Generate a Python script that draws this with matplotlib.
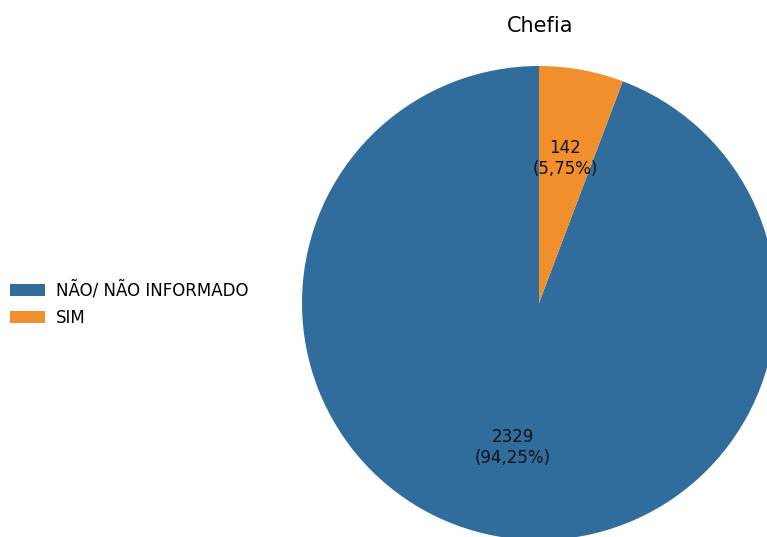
import matplotlib
matplotlib.use("Agg")
import matplotlib.pyplot as plt

categories = ["NÃO/ NÃO INFORMADO", "SIM"]
values = [2329, 142]
colors = ["#306d9c", "#f28f2d"]
title = "Chefia"

W, H = 767, 537
fig = plt.figure(figsize=(W / 100, H / 100), dpi=100)

cx, cy, R = 539, 303, 237
ax = fig.add_axes([(cx - R) / W, (H - cy - R) / H, 2 * R / W, 2 * R / H])

total = sum(values)

def fmt(p):
    n = int(round(p * total / 100))
    return f"{n}\n({p:.2f}%)".replace(".", ",")

wedges, texts, autotexts = ax.pie(values, colors=colors, startangle=90,
                                  autopct=fmt, pctdistance=0.62,
                                  textprops=dict(fontsize=12, color="#111111"))
ax.set_xlim(-1, 1)
ax.set_ylim(-1, 1)
ax.set_aspect("equal")

fig.text(540 / W, 1 - 26 / H, title, ha="center", va="center", fontsize=15)

fig.legend(wedges, categories, loc="center left", bbox_to_anchor=(0.0, 1 - 304 / H),
           frameon=False, fontsize=12, handlelength=2.1, handleheight=0.7,
           handletextpad=0.65, labelspacing=0.55, borderaxespad=0.2)

fig.savefig("out.png", dpi=100)
